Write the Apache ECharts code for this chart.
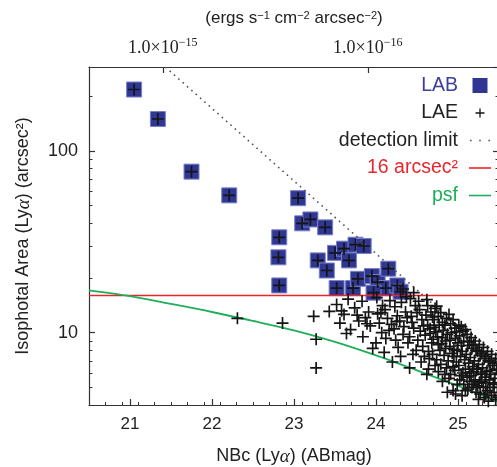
<!DOCTYPE html>
<html><head><meta charset="utf-8">
<script src="https://cdn.jsdelivr.net/npm/echarts@6/dist/echarts.min.js"></script>
<style>html,body{margin:0;padding:0;background:#fff}#c{width:497px;height:467px}</style>
</head><body><div id="c"></div>
<script>
// ---------- data ----------
const xRange = [20.5, 25.5];
const yRange = [4, 290];
const xTicks = [21, 22, 23, 24, 25];
const yTicks = [10, 100];
const yMinorTicks = [5, 6, 7, 8, 9, 20, 30, 40, 50, 60, 70, 80, 90, 200];
const topTickMags = [21.40, 23.90];
const topTickExps = [-15, -16];

// LAB (Lyα blobs): [NBc mag, isophotal area]
const labPoints = [
  [21.05,218],[21.34,150],[21.75,77],[22.21,57],
  [23.05,55],[22.82,33.5],[22.81,26],[22.82,18.2],
  [23.10,40],[23.20,42],[23.38,38],[23.29,25],[23.40,22],
  [23.50,27.5],[23.61,29],[23.67,25],[23.75,30.5],[23.85,30],
  [23.52,17.6],[23.72,17.6],[23.78,19.8],[23.95,20.5],[24.02,19.0],
  [24.12,17.6],[23.97,16.6],[24.15,22.5],[24.26,18.2],[24.30,16.8]
];
// LAE (Lyα emitters): [NBc mag, isophotal area] (LABs are LAEs too)
const laePoints = [
  [21.05,218],[21.34,150],[21.75,77],[22.21,57],
  [23.05,55],[22.82,33.5],[22.81,26],[22.82,18.2],
  [23.10,40],[23.20,42],[23.38,38],[23.29,25],[23.40,22],
  [23.50,27.5],[23.61,29],[23.67,25],[23.75,30.5],[23.85,30],
  [23.52,17.6],[23.72,17.6],[23.78,19.8],[23.95,20.5],[24.02,19.0],
  [24.12,17.6],[23.97,16.6],[24.15,22.5],[24.26,18.2],[24.30,16.8],
  [22.31,12.0],[22.86,11.3],[23.24,12.3],[23.27,9.2],[23.27,6.4],
  [23.43,13.1],[23.52,14.3],[23.56,11.3],[23.61,12.6],[23.58,13.2],
  [23.66,15.3],[23.69,10.4],[23.74,13.7],[23.77,12.5],[23.79,11.6],[23.64,9.9],
  [23.83,14.9],[23.87,12.1],[23.84,9.5],[23.91,13.0],[23.93,10.9],[23.96,8.2],[23.89,11.2],
  [24.01,15.6],[24.02,12.7],[24.04,11.3],[24.00,8.8],[24.08,14.1],[24.07,10.0],[24.06,12.9],
  [24.11,13.4],[24.14,12.0],[24.12,9.3],[24.17,15.0],[24.19,11.1],[24.16,10.3],[24.10,7.8],[24.20,6.9],
  [24.23,13.9],[24.26,12.4],[24.22,10.5],[24.27,8.3],[24.31,14.7],[24.29,11.6],[24.33,9.8],
  [24.36,13.0],[24.38,12.1],[24.34,10.8],[24.39,8.8],[24.25,11.5],[24.30,7.4],[24.33,17.4],
  [24.37,15.8],[24.24,9.1],
  [24.42,15.4],[24.44,11.4],[24.41,9.5],[24.45,7.6],[24.48,14.1],[24.50,12.9],[24.46,10.6],
  [24.51,9.1],[24.53,13.4],[24.56,11.8],[24.54,10.2],[24.57,8.4],[24.55,6.9],[24.46,16.6],
  [24.52,14.9],[24.58,10.9],[24.43,12.3],[24.49,8.0],[24.59,7.4],[24.41,6.4],
  [24.62,15.2],[24.61,12.5],[24.63,11.0],[24.60,9.7],[24.64,7.9],[24.67,13.0],[24.66,10.5],
  [24.68,8.8],[24.65,7.2],[24.72,13.6],[24.71,11.8],[24.73,10.1],[24.70,9.2],[24.72,6.6],
  [24.76,12.3],[24.77,11.0],[24.75,9.5],[24.78,8.0],[24.76,6.1],[24.63,14.1],[24.69,12.2],
  [24.74,14.0],[24.79,12.9],[24.64,6.3],[24.69,7.6],[24.74,7.1],[24.79,6.7],[24.66,9.9],
  [24.71,10.7],[24.76,8.6],[24.62,5.9],
  [24.81,11.4],[24.82,10.3],[24.80,8.7],[24.83,7.5],[24.81,5.4],[24.86,12.0],[24.87,9.8],
  [24.85,9.0],[24.88,7.0],[24.86,6.4],[24.87,4.7],[24.91,11.2],[24.92,10.0],[24.90,8.4],
  [24.93,7.7],[24.91,5.9],[24.94,4.8],[24.96,10.6],[24.97,9.3],[24.95,8.1],[24.98,6.9],
  [24.96,6.2],[24.97,4.6],[24.84,11.0],[24.89,12.6],[24.94,11.8],[24.98,10.1],[24.84,5.9],
  [24.89,5.6],[24.94,6.5],[24.99,5.2],[24.81,9.4],[24.85,8.2],[24.90,9.1],[24.95,7.4],[24.99,8.0],
  [25.01,11.0],[25.02,9.6],[25.00,8.8],[25.03,7.4],[25.01,6.6],[25.02,5.5],[25.06,10.2],
  [25.07,9.0],[25.05,7.9],[25.08,7.1],[25.06,6.0],[25.07,5.2],[25.05,4.5],[25.11,9.8],
  [25.12,8.5],[25.10,7.6],[25.13,6.8],[25.11,5.7],[25.12,4.9],[25.16,9.4],[25.17,8.2],
  [25.15,7.3],[25.18,6.5],[25.16,5.8],[25.17,5.0],[25.04,10.8],[25.09,10.4],[25.14,8.9],
  [25.19,8.6],[25.04,5.8],[25.09,4.8],[25.14,5.4],[25.19,6.1],[25.04,8.5],[25.09,6.3],
  [25.14,6.0],[25.19,5.2],
  [25.21,9.0],[25.22,8.0],[25.20,7.0],[25.23,6.3],[25.21,5.5],[25.22,4.7],[25.26,8.6],
  [25.27,7.5],[25.25,6.7],[25.28,6.0],[25.26,5.3],[25.27,4.6],[25.31,8.3],[25.32,7.2],
  [25.30,6.4],[25.33,5.7],[25.31,5.0],[25.32,4.4],[25.36,7.9],[25.37,7.0],[25.35,6.1],
  [25.38,5.5],[25.36,4.8],[25.41,7.6],[25.42,6.6],[25.40,5.9],[25.43,5.2],[25.41,4.5],
  [25.46,7.2],[25.47,6.3],[25.45,5.6],[25.48,5.0],[25.46,4.3],[25.24,7.9],[25.29,7.7],
  [25.34,7.4],[25.39,6.9],[25.44,6.8],[25.49,6.0],[25.24,5.1],[25.29,5.4],[25.34,4.6],
  [25.39,5.0],[25.44,4.7],[25.49,4.4],[25.37,4.2],[25.25,4.3],[25.24,6.3],[25.29,5.9],
  [25.34,5.3],[25.39,6.2],[25.44,5.3]
];
// detection limit (dotted), 16 arcsec^2 threshold (red), psf (green)
const detLimitPoints = [[21.43, 290], [25.5, 6.85]];
const thresholdArea = 16;
const psfMag  = [20.5, 21.0, 21.5, 22.0, 22.5, 23.0, 23.5, 24.0, 24.5, 25.0, 25.5];
const psfArea = [17.1, 15.9, 14.4, 13.0, 11.6, 10.3, 8.9, 7.5, 6.2, 5.1, 4.15];

// ---------- chart ----------
const SANS = "'Liberation Sans', Arial, Helvetica, sans-serif";
const SERIF = "'Liberation Serif', 'Times New Roman', serif";
const AX = '#333';
const C_LAB = '#2f3793', C_RED = '#e8262b', C_GREEN = '#1fae5a', C_DOT = '#555';
const plusPath = 'path://M4.3,0H5.7V4.3H10V5.7H5.7V10H4.3V5.7H0V4.3H4.3Z';
// legend icons (leading moveTo points only pad the icon box)
const icoSquare = 'path://M-9.5,0M24.5,15M0,0H15V15H0Z';
const icoPlus = 'path://M-17,-7.5M17,7.5M-0.65,-4.5H0.65V-0.65H4.5V0.65H0.65V4.5H-0.65V0.65H-4.5V-0.65H-0.65Z';
const icoLine = 'path://M-6,-6.7M28,8.3M0,0H22V1.6H0Z';
const icoDots = 'path://M-6,-6.7M28,8.3M1,0H2.6V1.6H1Z M10.2,0H11.8V1.6H10.2Z M19.4,0H21V1.6H19.4Z';
const xMinor = [];
for (let v = Math.round(xRange[0]*10); v <= Math.round(xRange[1]*10); v += 2) {
  if (v % 10 !== 0) xMinor.push(v / 10);
}
function nearestIdx(arr, v) {
  let b = 0; for (let i = 1; i < arr.length; i++) if (Math.abs(arr[i]-v) < Math.abs(arr[b]-v)) b = i; return b;
}
const lineAx = {show: true, lineStyle: {color: AX, width: 1.2}};
const chart = echarts.init(document.getElementById('c'));
chart.setOption({
  animation: false,
  backgroundColor: '#fff',
  grid: {left: 89, right: -2, top: 67, bottom: 62, containLabel: false, outerBoundsMode: 'none'},
  legend: {
    orient: 'vertical', align: 'right', right: 0, top: 75.5, padding: 0,
    itemWidth: 34, itemHeight: 15, itemGap: 7.5,
    textStyle: {fontFamily: SANS, fontSize: 19.5},
    data: [
      {name: 'LAB', icon: icoSquare, itemStyle: {color: C_LAB, borderColor: '#7880c6', borderWidth: 0}, textStyle: {color: '#3b40a0'}},
      {name: 'LAE', icon: icoPlus, itemStyle: {color: '#151515'}, textStyle: {color: '#222'}},
      {name: 'detection limit', icon: icoDots, itemStyle: {color: C_DOT}, textStyle: {color: '#222'}},
      {name: '16 arcsec²', icon: icoLine, itemStyle: {color: C_RED}, textStyle: {color: C_RED}},
      {name: 'psf', icon: icoLine, itemStyle: {color: C_GREEN}, textStyle: {color: C_GREEN}}
    ]
  },
  xAxis: [
    {type: 'value', position: 'bottom', min: xRange[0], max: xRange[1],
     name: 'NBc (Ly{i|α}) (ABmag)', nameLocation: 'middle', nameGap: 42,
     nameTextStyle: {fontFamily: SANS, fontSize: 18, color: '#222',
       rich: {i: {fontFamily: SERIF, fontStyle: 'italic', fontSize: 19, color: '#222'}}},
     axisLine: lineAx, splitLine: {show: false},
     axisTick: {inside: true, length: 6, customValues: xTicks, lineStyle: {color: AX, width: 1.2}},
     axisLabel: {customValues: xTicks, margin: 11, fontFamily: SANS, fontSize: 17, color: '#222'}},
    {type: 'value', position: 'bottom', min: xRange[0], max: xRange[1],
     axisLine: {show: false}, splitLine: {show: false}, axisLabel: {show: false},
     axisTick: {inside: true, length: 3, customValues: xMinor, lineStyle: {color: AX, width: 1}}},
    {type: 'value', position: 'top', min: xRange[0], max: xRange[1],
     name: '(ergs s{s|−1} cm{s|−2} arcsec{s|−2})', nameLocation: 'middle', nameGap: 40,
     nameTextStyle: {fontFamily: SANS, fontSize: 17, color: '#222',
       rich: {s: {fontFamily: SANS, fontSize: 11, verticalAlign: 'top', color: '#222'}}},
     axisLine: lineAx, splitLine: {show: false},
     axisTick: {inside: true, length: 6, customValues: topTickMags, lineStyle: {color: AX, width: 1.2}},
     axisLabel: {customValues: topTickMags, margin: 8,
       formatter: v => '{b|1.0×10}{s|' + String(topTickExps[nearestIdx(topTickMags, v)]).replace('-', '−') + '}',
       rich: {b: {fontFamily: SERIF, fontSize: 18, color: '#222', lineHeight: 22},
              s: {fontFamily: SERIF, fontSize: 12, color: '#222', verticalAlign: 'top', lineHeight: 14}}}}
  ],
  yAxis: [
    {type: 'log', position: 'left', min: yRange[0], max: yRange[1],
     name: 'Isophotal Area (Ly{i|α}) (arcsec²)', nameLocation: 'middle', nameGap: 56,
     nameTextStyle: {fontFamily: SANS, fontSize: 18, color: '#222',
       rich: {i: {fontFamily: SERIF, fontStyle: 'italic', fontSize: 19, color: '#222'}}},
     axisLine: lineAx, splitLine: {show: false},
     axisTick: {inside: true, length: 6, customValues: yTicks, lineStyle: {color: AX, width: 1.2}},
     axisLabel: {showMinLabel: false, showMaxLabel: false, margin: 11, fontFamily: SANS, fontSize: 18, color: '#222'}},
    {type: 'value', position: 'left', min: Math.log10(yRange[0]), max: Math.log10(yRange[1]),
     axisLine: {show: false}, splitLine: {show: false}, axisLabel: {show: false},
     axisTick: {inside: true, length: 3.5, customValues: yMinorTicks.map(Math.log10), lineStyle: {color: AX, width: 1}}},
    {type: 'log', position: 'right', min: yRange[0], max: yRange[1],
     axisLine: lineAx, splitLine: {show: false}, axisLabel: {show: false},
     axisTick: {inside: true, length: 6, lineStyle: {color: AX, width: 1.2}}},
    {type: 'value', position: 'right', min: Math.log10(yRange[0]), max: Math.log10(yRange[1]),
     axisLine: {show: false}, splitLine: {show: false}, axisLabel: {show: false},
     axisTick: {inside: true, length: 3.5, customValues: yMinorTicks.map(Math.log10), lineStyle: {color: AX, width: 1}}}
  ],
  series: [
    {name: 'LAB', type: 'scatter', xAxisIndex: 0, yAxisIndex: 0, z: 2,
     symbol: 'rect', symbolSize: 15, data: labPoints,
     itemStyle: {color: C_LAB, borderColor: '#7880c6', borderWidth: 1, opacity: 1}},
    {name: 'LAE', type: 'scatter', xAxisIndex: 0, yAxisIndex: 0, z: 4,
     symbol: plusPath, symbolSize: 12, data: laePoints,
     itemStyle: {color: '#151515', opacity: 1}},
    {name: 'detection limit', type: 'line', xAxisIndex: 0, yAxisIndex: 0, z: 3,
     symbol: 'none', data: detLimitPoints, itemStyle: {color: C_DOT},
     lineStyle: {color: C_DOT, width: 1.6, type: [1.6, 4.2]}},
    {name: '16 arcsec²', type: 'line', xAxisIndex: 0, yAxisIndex: 0, z: 3,
     symbol: 'none', data: [[xRange[0], thresholdArea], [xRange[1], thresholdArea]],
     itemStyle: {color: C_RED}, lineStyle: {color: C_RED, width: 1.5}},
    {name: 'psf', type: 'line', xAxisIndex: 0, yAxisIndex: 0, z: 3, smooth: 0.3,
     symbol: 'none', data: psfMag.map((m, i) => [m, psfArea[i]]),
     itemStyle: {color: C_GREEN}, lineStyle: {color: C_GREEN, width: 1.8}}
  ]
});
</script>
</body></html>
